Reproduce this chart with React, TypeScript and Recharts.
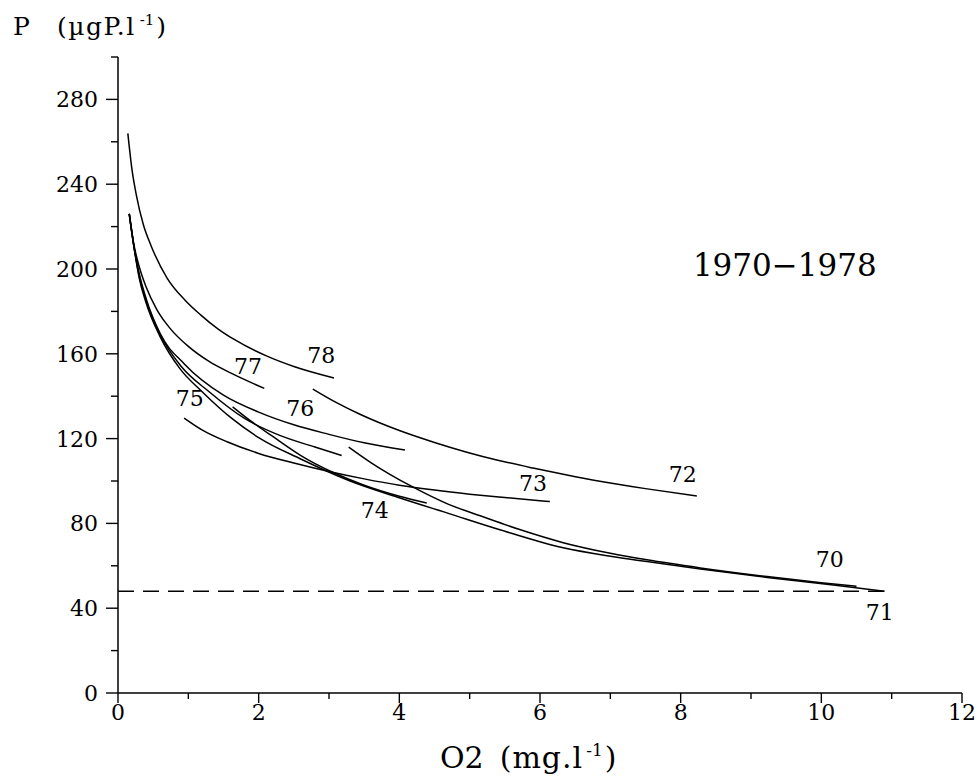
import React from "react";
import { LineChart, Line, XAxis, YAxis, ReferenceDot } from "recharts";

// phosphorus vs. dissolved oxygen, one fitted curve per year
const x78 = [0.14, 0.2, 0.26, 0.36, 0.47, 0.7, 0.95, 1.17, 1.42, 1.64, 2.11, 2.5, 3.07];
const y78 = [264, 246.6, 235, 221, 211, 195.6, 185.4, 178.5, 171.8, 167, 159, 154, 148.6];

const x77 = [0.16, 0.22, 0.3, 0.4, 0.55, 0.74, 1.0, 1.3, 1.6, 2.08];
const y77 = [226, 212.5, 201.3, 191.5, 181, 172, 163.5, 156.3, 151, 143.7];

const x76 = [0.16, 0.22, 0.3, 0.4, 0.6, 0.95, 1.5, 2.0, 2.5, 3.0, 3.5, 4.08];
const y76 = [226, 212, 198, 186, 169.5, 155, 140.5, 132.5, 126.5, 122, 118, 114.6];

const xB = [0.16, 0.22, 0.3, 0.4, 0.6, 0.9, 1.3, 1.8, 2.3, 2.8, 3.18];
const yB = [226, 212, 197, 185, 169, 154, 142, 129.5, 121.5, 116, 112];

const x75 = [0.94, 1.2, 1.55, 2.0, 2.5, 3.0, 3.5, 4.0, 4.5, 5.0, 5.5, 6.14];
const y75 = [129.7, 124, 118.5, 113, 108.5, 104.5, 101, 98, 95.7, 93.8, 92.2, 90.3];

const x74 = [1.63, 1.9, 2.2, 2.6, 3.06, 3.5, 4.0, 4.39];
const y74 = [135, 128, 121, 112, 104, 98, 92.8, 89.6];

const x72 = [2.77, 3.1, 3.44, 4.01, 4.5, 4.96, 5.4, 5.9, 6.4, 6.85, 7.5, 8.23];
const y72 = [143.4, 137.1, 131.5, 123.7, 118.2, 113.6, 109.8, 106.1, 102.7, 99.9, 96.4, 92.9];

const x70 = [3.28, 3.6, 4.19, 4.7, 5.15, 5.7, 6.33, 7.0, 7.52, 8.28, 9.23, 10.0, 10.5];
const y70 = [116, 108.6, 97.2, 89, 83.6, 77.2, 70.9, 65.9, 62.8, 59, 54.9, 52, 50.3];

const x71 = [0.16, 0.22, 0.3, 0.4, 0.6, 0.88, 1.2, 1.6, 2.0, 2.59, 3.3, 4.01, 4.72, 5.43, 6.33, 7.0, 7.52, 8.28, 9.23, 10.17, 10.9];
const y71 = [226, 212, 196, 184, 168, 153, 142, 130, 120.5, 110.5, 100, 92, 84.5, 77, 68.5, 64.5, 62, 58.5, 54.5, 51, 48];

// horizontal dashed level
const xLevel = [0, 10.9];
const yLevel = [48, 48];

const curveLabels = ["78", "77", "76", "75", "74", "73", "72", "70", "71"];
const labelX = [2.89, 1.85, 2.59, 1.02, 3.65, 5.9, 8.03, 10.12, 10.83];
const labelY = [159.4, 153.8, 134, 138.7, 86, 98.6, 103.3, 63.2, 38.2];

const periodText = "1970\u22121978";
const periodX = 9.48;
const periodY = 202;

const xTicks = [0, 1, 2, 3, 4, 5, 6, 7, 8, 9, 10, 11, 12];
const yTicks = [0, 20, 40, 60, 80, 100, 120, 140, 160, 180, 200, 220, 240, 260, 280, 300];

const FONT = "'DejaVu Serif', serif";

const toPoints = (xs: number[], ys: number[]) => xs.map((x, i) => ({ x, y: ys[i] }));

const series = [
  toPoints(x78, y78),
  toPoints(x77, y77),
  toPoints(x76, y76),
  toPoints(xB, yB),
  toPoints(x75, y75),
  toPoints(x74, y74),
  toPoints(x72, y72),
  toPoints(x70, y70),
  toPoints(x71, y71),
];

const XTick = (props: any) => {
  const { x, y, payload } = props;
  const major = payload.value % 2 === 0;
  return (
    <g>
      <line x1={x} y1={y} x2={x} y2={y + (major ? 10 : 6)} stroke="#000" strokeWidth={1.4} />
      {major && (
        <text x={x} y={y + 27} textAnchor="middle" fontSize={22} fontFamily={FONT} fill="#000">
          {payload.value}
        </text>
      )}
    </g>
  );
};

const YTick = (props: any) => {
  const { x, y, payload } = props;
  const major = payload.value % 40 === 0 && payload.value < 300;
  return (
    <g>
      <line x1={x - (major ? 12 : 7)} y1={y} x2={x} y2={y} stroke="#000" strokeWidth={1.4} />
      {major && (
        <text x={x - 20} y={y + 8} textAnchor="end" fontSize={22} fontFamily={FONT} fill="#000">
          {payload.value}
        </text>
      )}
    </g>
  );
};

const YTitle = (props: any) => {
  const { viewBox } = props;
  const top = viewBox.y - 22;
  return (
    <text y={top} fontSize={25} fontFamily={FONT} fill="#000">
      <tspan x={13}>P</tspan>
      <tspan x={57} letterSpacing={1.5}>(µgP.l</tspan>
      <tspan fontSize={15} dy={-10} dx={4}>-1</tspan>
      <tspan dy={10} dx={2}>)</tspan>
    </text>
  );
};

const XTitle = (props: any) => {
  const { viewBox } = props;
  const base = viewBox.y + 75;
  return (
    <text x={440} y={base} fontSize={30} fontFamily={FONT} fill="#000">
      <tspan>O2</tspan>
      <tspan dx={16} letterSpacing={1}>(mg.l</tspan>
      <tspan fontSize={17} dy={-12} dx={3}>-1</tspan>
      <tspan dy={12} dx={2}>)</tspan>
    </text>
  );
};

const textShape = (value: string, size: number) => (p: any) => (
  <text
    x={p.cx}
    y={p.cy}
    textAnchor="middle"
    dominantBaseline="central"
    fontSize={size}
    fontFamily={FONT}
    fill="#000"
  >
    {value}
  </text>
);

export default function App() {
  return (
    <div style={{ position: "absolute", left: 0, top: 0, background: "#fff" }}>
      <LineChart width={979} height={779} margin={{ top: 57, right: 17, left: 0, bottom: 0 }}>
        <XAxis
          dataKey="x"
          type="number"
          domain={[0, 12]}
          ticks={xTicks}
          interval={0}
          allowDataOverflow
          height={86}
          tickSize={0}
          tickMargin={0}
          tickLine={false}
          axisLine={{ stroke: "#000", strokeWidth: 1.5 }}
          tick={<XTick />}
          label={{ content: <XTitle /> }}
        />
        <YAxis
          type="number"
          domain={[0, 300]}
          ticks={yTicks}
          interval={0}
          allowDataOverflow
          width={118}
          tickSize={0}
          tickMargin={0}
          tickLine={false}
          axisLine={{ stroke: "#000", strokeWidth: 1.5 }}
          tick={<YTick />}
          label={{ content: <YTitle /> }}
        />

        {series.map((data, i) => (
          <Line
            key={i}
            data={data}
            dataKey="y"
            type="monotone"
            stroke="#000"
            strokeWidth={1.5}
            dot={false}
            activeDot={false}
            isAnimationActive={false}
          />
        ))}

        <Line
          data={toPoints(xLevel, yLevel)}
          dataKey="y"
          type="linear"
          stroke="#000"
          strokeWidth={1.3}
          strokeDasharray="16 9"
          dot={false}
          activeDot={false}
          isAnimationActive={false}
        />

        {curveLabels.map((t, i) => (
          <ReferenceDot
            key={t}
            x={labelX[i]}
            y={labelY[i]}
            r={0}
            ifOverflow="visible"
            shape={textShape(t, 22)}
          />
        ))}
        <ReferenceDot
          x={periodX}
          y={periodY}
          r={0}
          ifOverflow="visible"
          shape={textShape(periodText, 31)}
        />
      </LineChart>
    </div>
  );
}
